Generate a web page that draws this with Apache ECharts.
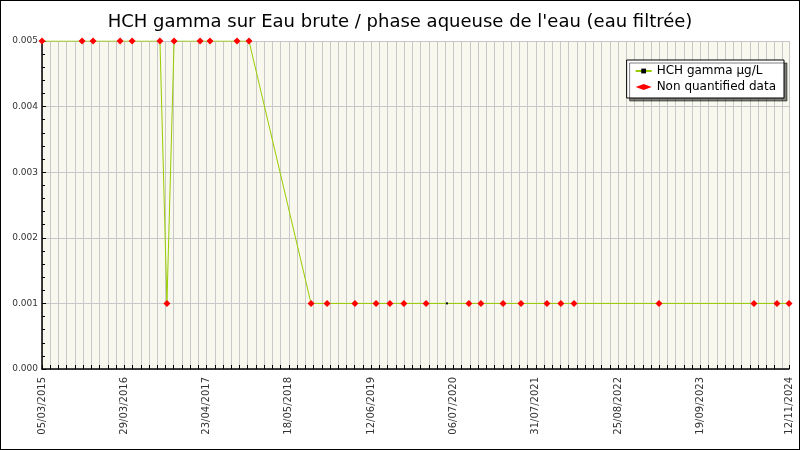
<!DOCTYPE html>
<html>
<head>
<meta charset="utf-8">
<script src="https://cdn.jsdelivr.net/npm/echarts@6/dist/echarts.min.js"></script>
<style>
html,body{margin:0;padding:0;background:#fff;}
#chart{width:798px;height:448px;border:1px solid #000;}
</style>
</head>
<body>
<div id="chart"></div>
<script>
// jours écoulés depuis le premier prélèvement (05/03/2015)
var sampleDay = [0,190,242,370,427,559,592,626,749,796,924,981,1275,1351,1483,1583,1649,1715,1820,1919,2023,2080,2185,2270,2393,2459,2521,2924,3374,3483,3540];
var sampleValue = [0.005,0.005,0.005,0.005,0.005,0.005,0.001,0.005,0.005,0.005,0.005,0.005,0.001,0.001,0.001,0.001,0.001,0.001,0.001,0.001,0.001,0.001,0.001,0.001,0.001,0.001,0.001,0.001,0.001,0.001,0.001];
var quantified = [19]; // index des mesures quantifiées
var startDate = Date.UTC(2015, 2, 5);
var endDay = 3540;
var DAY = 86400000;
var step = 39 * DAY;

function pad(n){ return n < 10 ? '0' + n : '' + n; }
function fmt(v){
    var d = new Date(v);
    return pad(d.getUTCDate()) + '/' + pad(d.getUTCMonth() + 1) + '/' + d.getUTCFullYear();
}

var lineData = [], ncData = [];
for (var i = 0; i < sampleDay.length; i++) {
    var t = startDate + sampleDay[i] * DAY;
    lineData.push([t, sampleValue[i]]);
    if (quantified.indexOf(i) < 0) ncData.push([t, sampleValue[i]]);
}

var myChart = echarts.init(document.getElementById('chart'));
var option = {
    animation: false,
    title: {
        text: "HCH gamma sur Eau brute / phase aqueuse de l'eau (eau filtrée)",
        left: 'center',
        top: 7,
        textStyle: { fontFamily: 'DejaVu Sans', fontSize: 18, fontWeight: 'normal', color: '#000' }
    },
    legend: {
        right: 15, top: 59,
        orient: 'vertical',
        backgroundColor: '#fff',
        borderColor: '#000', borderWidth: 1,
        shadowColor: 'rgba(0,0,0,0.5)', shadowOffsetX: 3, shadowOffsetY: 3, shadowBlur: 0,
        padding: [5, 8, 5, 8],
        itemGap: 4, itemWidth: 16, itemHeight: 6,
        textStyle: { fontFamily: 'DejaVu Sans', fontSize: 12, color: '#000' },
        data: ['HCH gamma µg/L', 'Non quantified data']
    },
    grid: {
        left: 41, right: 10, top: 40, bottom: 80,
        outerBoundsMode: 'none',
        containLabel: false,
        show: true, backgroundColor: '#f8f8ee', borderWidth: 0
    },
    xAxis: {
        type: 'value',
        min: startDate,
        max: startDate + endDay * DAY,
        interval: step,
        axisLine: { lineStyle: { color: '#000', width: 1.5 } },
        axisTick: { show: true, length: 4, inside: true, lineStyle: { color: '#000' } },
        splitLine: { show: true, lineStyle: { color: '#c8c8c8' } },
        axisLabel: {
            rotate: 90, fontSize: 10, fontFamily: 'DejaVu Sans', color: '#333',
            showMaxLabel: true,
            formatter: function (v) {
                var k = Math.round((v - startDate) / step);
                if (k % 10 === 0 || Math.abs(v - (startDate + endDay * DAY)) < DAY) return fmt(v);
                return '';
            }
        }
    },
    yAxis: {
        type: 'value',
        min: 0, max: 0.005, interval: 0.001,
        name: 'HCH gamma µg/L',
        nameLocation: 'middle',
        nameGap: 26,
        nameTextStyle: { fontFamily: 'DejaVu Sans', fontSize: 12, color: '#000' },
        axisLine: { show: true, lineStyle: { color: '#000', width: 1.5 } },
        axisTick: { show: true, inside: true, length: 4, lineStyle: { color: '#000' } },
        minorTick: { show: true, splitNumber: 5, length: 3, lineStyle: { color: '#000' } },
        splitLine: { lineStyle: { color: '#c8c8c8' } },
        axisLabel: {
            fontSize: 9, fontFamily: 'DejaVu Sans', color: '#333', margin: 4,
            formatter: function (v) { return v.toFixed(3); }
        }
    },
    series: [{
        name: 'HCH gamma µg/L',
        type: 'line',
        data: lineData,
        symbol: 'rect', symbolSize: 2,
        itemStyle: { color: '#000' },
        lineStyle: { color: '#99cc00', width: 1 },
        z: 2
    }, {
        name: 'Non quantified data',
        type: 'scatter',
        data: ncData,
        symbol: 'diamond', symbolSize: 7,
        itemStyle: { color: '#ff0000', opacity: 1 },
        z: 5
    }]
};
myChart.setOption(option);
</script>
</body>
</html>
